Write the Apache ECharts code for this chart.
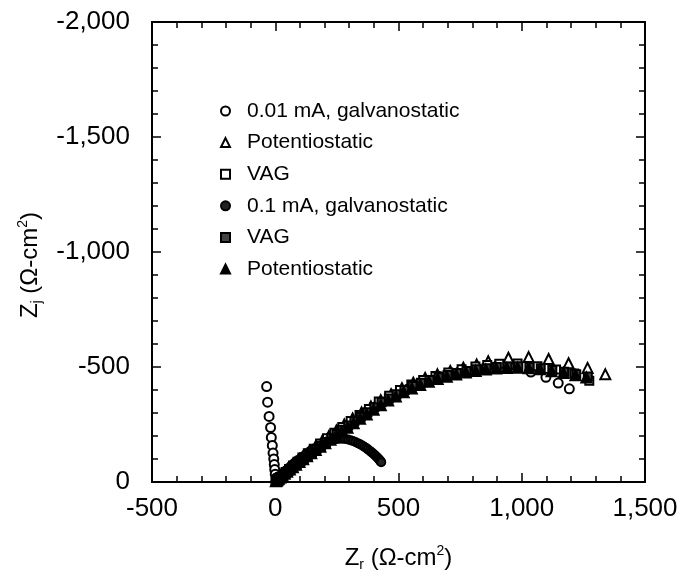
<!DOCTYPE html>
<html>
<head>
<meta charset="utf-8">
<script src="https://cdn.jsdelivr.net/npm/echarts@6/dist/echarts.min.js"></script>
<style>
html, body { margin: 0; padding: 0; background: #fff; }
#chart { width: 690px; height: 577px; }
</style>
</head>
<body>
<div id="chart"></div>
<script>
// axis ticks
const xTicks = [-500, 0, 500, 1000, 1500]
const yTicks = [-2000, -1500, -1000, -500, 0]

// 0.01 mA, galvanostatic (open circles)
const galv001X = [-35, -31, -25, -19, -16, -12, -9, -6, -4, -2, 0, 3, 7, 14, 24, 37, 53, 72, 95, 122, 152, 186, 224, 266, 312, 362, 416, 474, 536, 602, 672, 746, 822, 900, 976, 1037, 1098, 1148, 1193]
const galv001Y = [-415, -347, -285, -237, -194, -159, -126, -100, -76, -54, -34, -17, -6, -12, -22, -35, -50, -67, -87, -112, -137, -165, -196, -229, -263, -299, -334, -369, -403, -432, -458, -478, -494, -505, -505, -478, -455, -430, -405]

// Potentiostatic (open triangles)
const potOpenX = [4, 10, 18, 27, 38, 50, 64, 80, 98, 118, 140, 164, 190, 218, 248, 280, 314, 350, 388, 428, 470, 514, 560, 608, 658, 710, 763, 817, 864, 946, 1028, 1109, 1190, 1267, 1339]
const potOpenY = [-5, -12, -21, -30, -42, -54, -67, -82, -98, -116, -135, -155, -177, -200, -224, -250, -276, -302, -328, -356, -382, -408, -432, -452, -468, -483, -497, -511, -525, -540, -543, -535, -516, -496, -468]

// VAG (open squares)
const vagOpenX = [5, 12, 20, 30, 42, 56, 72, 90, 110, 132, 156, 182, 210, 240, 272, 306, 342, 380, 420, 462, 506, 552, 600, 650, 702, 756, 812, 860, 909, 983, 1064, 1139, 1213, 1274]
const vagOpenY = [-6, -13, -22, -32, -44, -57, -72, -88, -106, -125, -145, -167, -190, -214, -239, -265, -291, -317, -350, -375, -400, -424, -444, -461, -476, -490, -502, -509, -514, -515, -503, -489, -472, -440]

// 0.1 mA, galvanostatic (shaded circles)
const galv01X = [0, 2, 8, 15, 23, 32, 42, 53, 65, 78, 92, 107, 123, 140, 158, 177, 197, 218, 229, 240, 251, 262, 273, 284, 295, 305, 315, 325, 335, 344, 353, 361, 369, 376, 383, 390, 396, 402, 407, 412, 416, 420, 423, 426, 428, 430]
const galv01Y = [0, -3, -10, -19, -28, -38, -49, -60, -72, -84, -96, -109, -121, -134, -146, -158, -169, -178, -182, -185, -187, -188, -188, -187, -185, -182, -178, -174, -169, -164, -159, -153, -148, -142, -136, -130, -125, -119, -114, -109, -104, -100, -96, -92, -89, -86]

// VAG (shaded squares)
const vagFillX = [2, 6, 11, 17, 24, 32, 41, 51, 62, 74, 87, 101, 116, 132, 149, 167, 186, 206, 227, 249, 272, 296, 321, 347, 374, 402, 431, 461, 492, 524, 557, 591, 626, 662, 699, 737, 776, 816, 857, 899, 942, 986, 1031, 1077, 1124, 1172, 1221, 1268]
const vagFillY = [-2, -6, -11, -16, -23, -30, -38, -47, -56, -66, -76, -88, -101, -114, -128, -143, -158, -174, -191, -209, -227, -246, -265, -284, -303, -325, -347, -363, -382, -400, -417, -431, -444, -455, -465, -474, -483, -490, -495, -500, -502, -503, -500, -495, -487, -479, -469, -459]

// Potentiostatic (filled triangles)
const potFillX = [3, 8, 14, 21, 29, 38, 48, 59, 71, 84, 98, 113, 129, 146, 164, 183, 203, 224, 246, 269, 293, 318, 344, 371, 399, 428, 458, 489, 521, 554, 588, 623, 659, 696, 734, 773, 813, 854, 896, 939, 983, 1028, 1074, 1121, 1169, 1218, 1262]
const potFillY = [-3, -8, -14, -20, -27, -36, -45, -54, -64, -75, -87, -99, -112, -125, -139, -153, -168, -184, -200, -218, -236, -255, -275, -294, -314, -334, -354, -372, -390, -407, -422, -436, -448, -458, -467, -476, -483, -489, -494, -496, -497, -495, -490, -482, -474, -464, -454]

const font = 'Liberation Sans, Arial, sans-serif'

function pairs (xs, ys) {
  return xs.map((x, i) => [x, ys[i]])
}

function makeSeries (name, xs, ys, symbol, size, fill) {
  return {
    name: name,
    type: 'scatter',
    symbol: symbol,
    symbolSize: size,
    data: pairs(xs, ys),
    itemStyle: { color: fill, borderColor: '#000', borderWidth: 2, opacity: 1 },
    emphasis: { disabled: true },
    animation: false
  }
}

const thousands = v => v.toLocaleString('en-US')

const axisLine = { show: true, onZero: false, lineStyle: { color: '#000', width: 2 } }
const axisTick = { show: true, inside: true, length: 9, lineStyle: { color: '#000', width: 1.5 } }
const minorTick = { show: true, splitNumber: 5, length: 6, lineStyle: { color: '#000', width: 1.5 } }

const titleRich = {
  a: { fontSize: 24, fontFamily: font, color: '#000', lineHeight: 28 },
  sub: { fontSize: 14, fontFamily: font, color: '#000', lineHeight: 12, verticalAlign: 'bottom' },
  sup: { fontSize: 14, fontFamily: font, color: '#000', lineHeight: 12, verticalAlign: 'top' }
}

const option = {
  backgroundColor: '#fff',
  textStyle: { fontFamily: font, color: '#000' },
  grid: { left: 152, right: 45, top: 22, bottom: 95 },
  legend: {
    orient: 'vertical',
    left: 215,
    top: 95,
    itemGap: 9.6,
    itemWidth: 9,
    itemHeight: 9,
    selectedMode: false,
    textStyle: { fontSize: 21, fontFamily: font, color: '#000', lineHeight: 22, padding: [0, 0, 0, 12] },
    data: ['0.01 mA, galvanostatic', 'Potentiostatic', 'VAG', '0.1 mA, galvanostatic', 'VAG ', 'Potentiostatic ']
  },
  xAxis: [
    {
      type: 'value',
      position: 'bottom',
      min: xTicks[0],
      max: xTicks[xTicks.length - 1],
      interval: 500,
      axisLine: axisLine,
      axisTick: axisTick,
      minorTick: minorTick,
      splitLine: { show: false },
      axisLabel: { fontSize: 26, color: '#000', margin: 14, formatter: thousands },
      name: '{a|Z}{sub|r}{a| (Ω-cm}{sup|2}{a|)}',
      nameLocation: 'middle',
      nameGap: 62,
      nameTextStyle: { rich: titleRich }
    },
    {
      type: 'value',
      position: 'top',
      min: xTicks[0],
      max: xTicks[xTicks.length - 1],
      interval: 500,
      axisLine: axisLine,
      axisTick: axisTick,
      minorTick: minorTick,
      splitLine: { show: false },
      axisLabel: { show: false }
    }
  ],
  yAxis: [
    {
      type: 'value',
      position: 'left',
      inverse: true,
      min: yTicks[0],
      max: yTicks[yTicks.length - 1],
      interval: 500,
      axisLine: axisLine,
      axisTick: axisTick,
      minorTick: minorTick,
      splitLine: { show: false },
      axisLabel: { fontSize: 26, color: '#000', margin: 22, formatter: thousands },
      name: '{a|Z}{sub|j}{a| (Ω-cm}{sup|2}{a|)}',
      nameLocation: 'middle',
      nameGap: 108,
      nameTextStyle: { rich: titleRich, padding: [0, 26, 0, 0] }
    },
    {
      type: 'value',
      position: 'right',
      inverse: true,
      min: yTicks[0],
      max: yTicks[yTicks.length - 1],
      interval: 500,
      axisLine: axisLine,
      axisTick: axisTick,
      minorTick: minorTick,
      splitLine: { show: false },
      axisLabel: { show: false }
    }
  ],
  series: [
    makeSeries('0.01 mA, galvanostatic', galv001X, galv001Y, 'circle', 9, '#fff'),
    makeSeries('Potentiostatic', potOpenX, potOpenY, 'triangle', 10, '#fff'),
    makeSeries('VAG', vagOpenX, vagOpenY, 'rect', 8, '#fff'),
    makeSeries('0.1 mA, galvanostatic', galv01X, galv01Y, 'circle', 8, '#222'),
    makeSeries('VAG ', vagFillX, vagFillY, 'rect', 8, '#444'),
    makeSeries('Potentiostatic ', potFillX, potFillY, 'triangle', 10, '#000')
  ]
}

const myChart = echarts.init(document.getElementById('chart'))
myChart.setOption(option)
</script>
</body>
</html>
